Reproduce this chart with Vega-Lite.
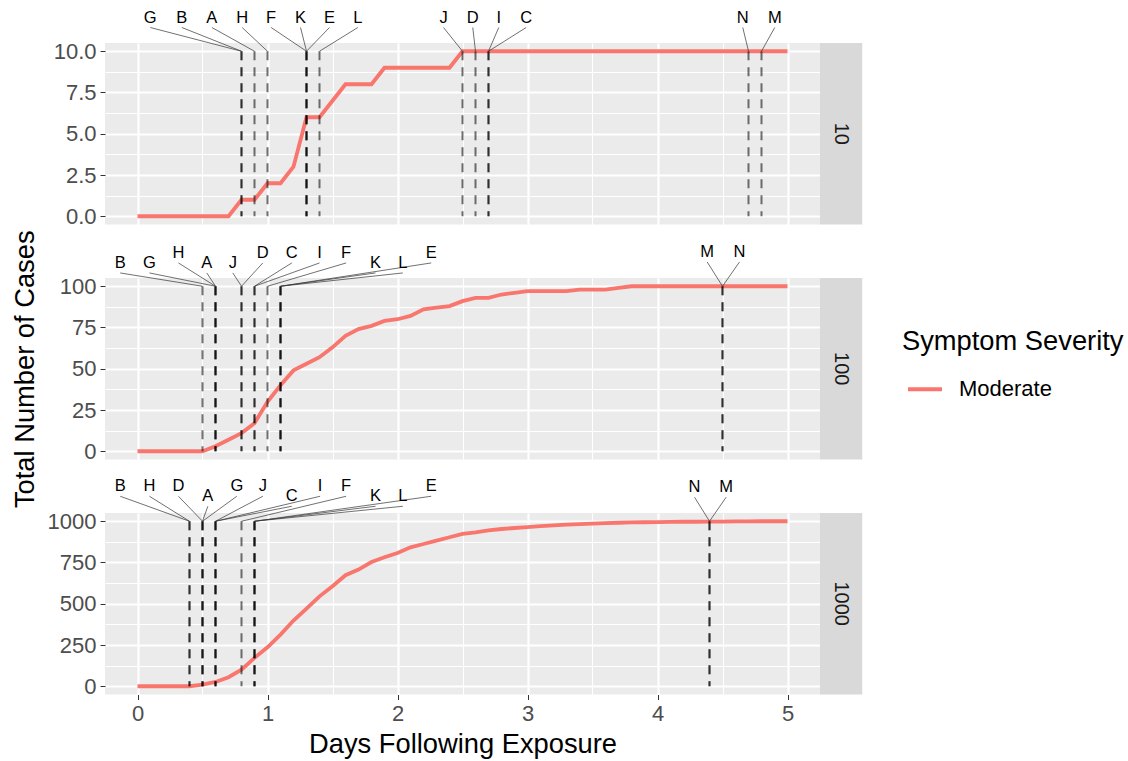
{
  "$schema": "https://vega.github.io/schema/vega-lite/v6.json",
  "background": "white",
  "padding": {"left": 11, "top": 9, "right": 5, "bottom": 5},
  "bounds": "flush",
  "spacing": 53,
  "config": {
    "font": "Liberation Sans",
    "view": {"fill": "#EBEBEB", "stroke": null},
    "axis": {"gridColor": "white", "domain": false, "tickColor": "#333333", "labelColor": "#4D4D4D", "labelFontSize": 22, "titleFontSize": 27.3, "titleColor": "black", "titleFontWeight": "normal", "tickSize": 5, "labelPadding": 4, "labelFlush": false, "labelOverlap": false}
  },
  "datasets": {
    "c10": [
      {"day":0,"cases":0,"severity":"Moderate"},{"day":0.1,"cases":0,"severity":"Moderate"},{"day":0.2,"cases":0,"severity":"Moderate"},{"day":0.3,"cases":0,"severity":"Moderate"},{"day":0.4,"cases":0,"severity":"Moderate"},{"day":0.5,"cases":0,"severity":"Moderate"},{"day":0.6,"cases":0,"severity":"Moderate"},{"day":0.7,"cases":0,"severity":"Moderate"},{"day":0.8,"cases":1,"severity":"Moderate"},{"day":0.9,"cases":1,"severity":"Moderate"},
      {"day":1,"cases":2,"severity":"Moderate"},{"day":1.1,"cases":2,"severity":"Moderate"},{"day":1.2,"cases":3,"severity":"Moderate"},{"day":1.3,"cases":6,"severity":"Moderate"},{"day":1.4,"cases":6,"severity":"Moderate"},{"day":1.5,"cases":7,"severity":"Moderate"},{"day":1.6,"cases":8,"severity":"Moderate"},{"day":1.7,"cases":8,"severity":"Moderate"},{"day":1.8,"cases":8,"severity":"Moderate"},{"day":1.9,"cases":9,"severity":"Moderate"},
      {"day":2,"cases":9,"severity":"Moderate"},{"day":2.1,"cases":9,"severity":"Moderate"},{"day":2.2,"cases":9,"severity":"Moderate"},{"day":2.3,"cases":9,"severity":"Moderate"},{"day":2.4,"cases":9,"severity":"Moderate"},{"day":2.5,"cases":10,"severity":"Moderate"},{"day":2.6,"cases":10,"severity":"Moderate"},{"day":2.7,"cases":10,"severity":"Moderate"},{"day":2.8,"cases":10,"severity":"Moderate"},{"day":2.9,"cases":10,"severity":"Moderate"},
      {"day":3,"cases":10,"severity":"Moderate"},{"day":3.1,"cases":10,"severity":"Moderate"},{"day":3.2,"cases":10,"severity":"Moderate"},{"day":3.3,"cases":10,"severity":"Moderate"},{"day":3.4,"cases":10,"severity":"Moderate"},{"day":3.5,"cases":10,"severity":"Moderate"},{"day":3.6,"cases":10,"severity":"Moderate"},{"day":3.7,"cases":10,"severity":"Moderate"},{"day":3.8,"cases":10,"severity":"Moderate"},{"day":3.9,"cases":10,"severity":"Moderate"},
      {"day":4,"cases":10,"severity":"Moderate"},{"day":4.1,"cases":10,"severity":"Moderate"},{"day":4.2,"cases":10,"severity":"Moderate"},{"day":4.3,"cases":10,"severity":"Moderate"},{"day":4.4,"cases":10,"severity":"Moderate"},{"day":4.5,"cases":10,"severity":"Moderate"},{"day":4.6,"cases":10,"severity":"Moderate"},{"day":4.7,"cases":10,"severity":"Moderate"},{"day":4.8,"cases":10,"severity":"Moderate"},{"day":4.9,"cases":10,"severity":"Moderate"},
      {"day":5,"cases":10,"severity":"Moderate"}
    ],
    "c100": [
      {"day":0,"cases":0,"severity":"Moderate"},{"day":0.1,"cases":0,"severity":"Moderate"},{"day":0.2,"cases":0,"severity":"Moderate"},{"day":0.3,"cases":0,"severity":"Moderate"},{"day":0.4,"cases":0,"severity":"Moderate"},{"day":0.5,"cases":0,"severity":"Moderate"},{"day":0.6,"cases":3,"severity":"Moderate"},{"day":0.7,"cases":7,"severity":"Moderate"},{"day":0.8,"cases":11,"severity":"Moderate"},{"day":0.9,"cases":17,"severity":"Moderate"},
      {"day":1,"cases":30,"severity":"Moderate"},{"day":1.1,"cases":40,"severity":"Moderate"},{"day":1.2,"cases":49,"severity":"Moderate"},{"day":1.3,"cases":53,"severity":"Moderate"},{"day":1.4,"cases":57,"severity":"Moderate"},{"day":1.5,"cases":63,"severity":"Moderate"},{"day":1.6,"cases":70,"severity":"Moderate"},{"day":1.7,"cases":74,"severity":"Moderate"},{"day":1.8,"cases":76,"severity":"Moderate"},{"day":1.9,"cases":79,"severity":"Moderate"},
      {"day":2,"cases":80,"severity":"Moderate"},{"day":2.1,"cases":82,"severity":"Moderate"},{"day":2.2,"cases":86,"severity":"Moderate"},{"day":2.3,"cases":87,"severity":"Moderate"},{"day":2.4,"cases":88,"severity":"Moderate"},{"day":2.5,"cases":91,"severity":"Moderate"},{"day":2.6,"cases":93,"severity":"Moderate"},{"day":2.7,"cases":93,"severity":"Moderate"},{"day":2.8,"cases":95,"severity":"Moderate"},{"day":2.9,"cases":96,"severity":"Moderate"},
      {"day":3,"cases":97,"severity":"Moderate"},{"day":3.1,"cases":97,"severity":"Moderate"},{"day":3.2,"cases":97,"severity":"Moderate"},{"day":3.3,"cases":97,"severity":"Moderate"},{"day":3.4,"cases":98,"severity":"Moderate"},{"day":3.5,"cases":98,"severity":"Moderate"},{"day":3.6,"cases":98,"severity":"Moderate"},{"day":3.7,"cases":99,"severity":"Moderate"},{"day":3.8,"cases":100,"severity":"Moderate"},{"day":3.9,"cases":100,"severity":"Moderate"},
      {"day":4,"cases":100,"severity":"Moderate"},{"day":4.1,"cases":100,"severity":"Moderate"},{"day":4.2,"cases":100,"severity":"Moderate"},{"day":4.3,"cases":100,"severity":"Moderate"},{"day":4.4,"cases":100,"severity":"Moderate"},{"day":4.5,"cases":100,"severity":"Moderate"},{"day":4.6,"cases":100,"severity":"Moderate"},{"day":4.7,"cases":100,"severity":"Moderate"},{"day":4.8,"cases":100,"severity":"Moderate"},{"day":4.9,"cases":100,"severity":"Moderate"},
      {"day":5,"cases":100,"severity":"Moderate"}
    ],
    "c1000": [
      {"day":0,"cases":0,"severity":"Moderate"},{"day":0.1,"cases":0,"severity":"Moderate"},{"day":0.2,"cases":0,"severity":"Moderate"},{"day":0.3,"cases":0,"severity":"Moderate"},{"day":0.4,"cases":0,"severity":"Moderate"},{"day":0.5,"cases":10,"severity":"Moderate"},{"day":0.6,"cases":26,"severity":"Moderate"},{"day":0.7,"cases":55,"severity":"Moderate"},{"day":0.8,"cases":100,"severity":"Moderate"},{"day":0.9,"cases":172,"severity":"Moderate"},
      {"day":1,"cases":236,"severity":"Moderate"},{"day":1.1,"cases":313,"severity":"Moderate"},{"day":1.2,"cases":398,"severity":"Moderate"},{"day":1.3,"cases":471,"severity":"Moderate"},{"day":1.4,"cases":545,"severity":"Moderate"},{"day":1.5,"cases":606,"severity":"Moderate"},{"day":1.6,"cases":673,"severity":"Moderate"},{"day":1.7,"cases":707,"severity":"Moderate"},{"day":1.8,"cases":753,"severity":"Moderate"},{"day":1.9,"cases":782,"severity":"Moderate"},
      {"day":2,"cases":808,"severity":"Moderate"},{"day":2.1,"cases":842,"severity":"Moderate"},{"day":2.2,"cases":862,"severity":"Moderate"},{"day":2.3,"cases":883,"severity":"Moderate"},{"day":2.4,"cases":903,"severity":"Moderate"},{"day":2.5,"cases":923,"severity":"Moderate"},{"day":2.6,"cases":933,"severity":"Moderate"},{"day":2.7,"cases":945,"severity":"Moderate"},{"day":2.8,"cases":953,"severity":"Moderate"},{"day":2.9,"cases":959,"severity":"Moderate"},
      {"day":3,"cases":965,"severity":"Moderate"},{"day":3.1,"cases":970,"severity":"Moderate"},{"day":3.2,"cases":975,"severity":"Moderate"},{"day":3.3,"cases":979,"severity":"Moderate"},{"day":3.4,"cases":983,"severity":"Moderate"},{"day":3.5,"cases":986,"severity":"Moderate"},{"day":3.6,"cases":989,"severity":"Moderate"},{"day":3.7,"cases":991,"severity":"Moderate"},{"day":3.8,"cases":993,"severity":"Moderate"},{"day":3.9,"cases":994,"severity":"Moderate"},
      {"day":4,"cases":995,"severity":"Moderate"},{"day":4.1,"cases":996,"severity":"Moderate"},{"day":4.2,"cases":997,"severity":"Moderate"},{"day":4.3,"cases":997,"severity":"Moderate"},{"day":4.4,"cases":998,"severity":"Moderate"},{"day":4.5,"cases":998,"severity":"Moderate"},{"day":4.6,"cases":999,"severity":"Moderate"},{"day":4.7,"cases":999,"severity":"Moderate"},{"day":4.8,"cases":1000,"severity":"Moderate"},{"day":4.9,"cases":1000,"severity":"Moderate"},
      {"day":5,"cases":1000,"severity":"Moderate"}
    ],
    "l10": [
      {"id":"G","day":0.8,"label_day":0.098,"label_y":12.04,"seg_y":11.44,"top":10},
      {"id":"B","day":0.8,"label_day":0.341,"label_y":12.04,"seg_y":11.44,"top":10},
      {"id":"A","day":0.9,"label_day":0.572,"label_y":12.04,"seg_y":11.44,"top":10},
      {"id":"H","day":1.0,"label_day":0.805,"label_y":12.04,"seg_y":11.44,"top":10},
      {"id":"F","day":1.3,"label_day":1.028,"label_y":12.04,"seg_y":11.44,"top":10},
      {"id":"K","day":1.3,"label_day":1.254,"label_y":12.04,"seg_y":11.44,"top":10},
      {"id":"E","day":1.3,"label_day":1.477,"label_y":12.04,"seg_y":11.44,"top":10},
      {"id":"L","day":1.4,"label_day":1.695,"label_y":12.04,"seg_y":11.44,"top":10},
      {"id":"J","day":2.5,"label_day":2.354,"label_y":12.04,"seg_y":11.44,"top":10},
      {"id":"D","day":2.6,"label_day":2.579,"label_y":12.04,"seg_y":11.44,"top":10},
      {"id":"I","day":2.7,"label_day":2.779,"label_y":12.04,"seg_y":11.44,"top":10},
      {"id":"C","day":2.7,"label_day":2.990,"label_y":12.04,"seg_y":11.44,"top":10},
      {"id":"N","day":4.7,"label_day":4.656,"label_y":12.04,"seg_y":11.44,"top":10},
      {"id":"M","day":4.8,"label_day":4.902,"label_y":12.04,"seg_y":11.44,"top":10}
    ],
    "l100": [
      {"id":"B","day":0.5,"label_day":-0.133,"label_y":114.12,"seg_y":108.06,"top":100},
      {"id":"G","day":0.6,"label_day":0.092,"label_y":114.12,"seg_y":108.06,"top":100},
      {"id":"H","day":0.6,"label_day":0.315,"label_y":120.18,"seg_y":114.12,"top":100},
      {"id":"A","day":0.6,"label_day":0.533,"label_y":114.12,"seg_y":108.06,"top":100},
      {"id":"J","day":0.8,"label_day":0.733,"label_y":114.12,"seg_y":108.06,"top":100},
      {"id":"D","day":0.8,"label_day":0.964,"label_y":120.18,"seg_y":114.12,"top":100},
      {"id":"C","day":0.9,"label_day":1.187,"label_y":120.18,"seg_y":114.12,"top":100},
      {"id":"I","day":0.9,"label_day":1.4,"label_y":120.18,"seg_y":114.12,"top":100},
      {"id":"F","day":1.0,"label_day":1.605,"label_y":120.18,"seg_y":114.12,"top":100},
      {"id":"K","day":1.1,"label_day":1.831,"label_y":114.12,"seg_y":108.06,"top":100},
      {"id":"L","day":1.1,"label_day":2.041,"label_y":114.12,"seg_y":108.06,"top":100},
      {"id":"E","day":1.1,"label_day":2.259,"label_y":120.18,"seg_y":114.12,"top":100},
      {"id":"M","day":4.5,"label_day":4.382,"label_y":120.79,"seg_y":114.73,"top":100},
      {"id":"N","day":4.5,"label_day":4.631,"label_y":120.79,"seg_y":114.73,"top":100}
    ],
    "l1000": [
      {"id":"B","day":0.4,"label_day":-0.133,"label_y":1212.1,"seg_y":1151.5,"top":1000},
      {"id":"H","day":0.4,"label_day":0.092,"label_y":1212.1,"seg_y":1151.5,"top":1000},
      {"id":"D","day":0.5,"label_day":0.315,"label_y":1212.1,"seg_y":1151.5,"top":1000},
      {"id":"A","day":0.5,"label_day":0.541,"label_y":1151.5,"seg_y":1090.9,"top":1000},
      {"id":"G","day":0.5,"label_day":0.764,"label_y":1212.1,"seg_y":1151.5,"top":1000},
      {"id":"J","day":0.6,"label_day":0.964,"label_y":1212.1,"seg_y":1151.5,"top":1000},
      {"id":"C","day":0.6,"label_day":1.187,"label_y":1151.5,"seg_y":1090.9,"top":1000},
      {"id":"I","day":0.6,"label_day":1.405,"label_y":1212.1,"seg_y":1151.5,"top":1000},
      {"id":"F","day":0.8,"label_day":1.605,"label_y":1212.1,"seg_y":1151.5,"top":1000},
      {"id":"K","day":0.9,"label_day":1.831,"label_y":1151.5,"seg_y":1090.9,"top":1000},
      {"id":"L","day":0.9,"label_day":2.041,"label_y":1151.5,"seg_y":1090.9,"top":1000},
      {"id":"E","day":0.9,"label_day":2.259,"label_y":1212.1,"seg_y":1151.5,"top":1000},
      {"id":"N","day":4.4,"label_day":4.285,"label_y":1206.1,"seg_y":1145.5,"top":1000},
      {"id":"M","day":4.4,"label_day":4.528,"label_y":1206.1,"seg_y":1145.5,"top":1000}
    ]
  },
  "vconcat": [
    {
      "width": 715, "height": 181.5,
      "resolve": {"axis": {"x": "independent", "y": "independent"}},
      "layer": [
        {"data": {"name": "c10"}, "mark": {"type": "line", "strokeWidth": 3.8},
         "encoding": {
           "x": {"field": "day", "type": "quantitative", "scale": {"domain": [-0.25, 5.25], "nice": false, "zero": false},
                 "axis": {"values": [0,1,2,3,4,5], "labels": false, "ticks": false, "title": null, "grid": true, "gridWidth": 2.2}},
           "y": {"field": "cases", "type": "quantitative", "scale": {"domain": [-0.5, 10.5], "nice": false, "zero": false},
                 "axis": {"values": [0,2.5,5,7.5,10], "format": ".1f", "title": null, "grid": true, "gridWidth": 2.2}},
           "color": {"field": "severity", "type": "nominal", "scale": {"domain": ["Moderate"], "range": ["#F8766D"]},
                     "legend": {"title": "Symptom Severity", "orient": "none", "legendX": 797, "legendY": 285, "titleLimit": 500, "titleFontSize": 27.3, "titleFontWeight": "normal", "titleColor": "black", "titlePadding": 15, "labelFontSize": 22, "labelColor": "black", "symbolType": "stroke", "symbolSize": 1156, "symbolStrokeWidth": 4, "symbolOffset": 4, "labelOffset": 15}}
         }},
        {"data": {"name": "l10"}, "mark": {"type": "rule", "strokeDash": [9, 7], "strokeWidth": 2, "color": "black", "opacity": 0.55},
         "encoding": {
           "x": {"field": "day", "type": "quantitative", "axis": {"orient": "top", "values": [0.5,1.5,2.5,3.5,4.5], "labels": false, "ticks": false, "title": null, "grid": true, "gridWidth": 1.1}},
           "y": {"field": "top", "type": "quantitative", "axis": {"orient": "right", "values": [1.25,3.75,6.25,8.75], "labels": false, "ticks": false, "title": null, "grid": true, "gridWidth": 1.1}},
           "y2": {"datum": 0}
         }},
        {"data": {"name": "l10"}, "mark": {"type": "rule", "strokeWidth": 0.7, "color": "#333333"},
         "encoding": {
           "x": {"field": "label_day", "type": "quantitative", "axis": null},
           "y": {"field": "seg_y", "type": "quantitative", "axis": null},
           "x2": {"field": "day"}, "y2": {"field": "top"}
         }},
        {"data": {"name": "l10"}, "mark": {"type": "text", "fontSize": 16.5, "baseline": "middle", "color": "black"},
         "encoding": {
           "x": {"field": "label_day", "type": "quantitative", "axis": null},
           "y": {"field": "label_y", "type": "quantitative", "axis": null},
           "text": {"field": "id"}
         }},
        {"data": {"values": [{"strip": "10"}]}, "mark": {"type": "rect", "color": "#D9D9D9"},
         "encoding": {
           "x": {"datum": 5.25, "type": "quantitative", "axis": null}, "x2": {"datum": 5.575},
           "y": {"datum": -0.5, "type": "quantitative", "axis": null}, "y2": {"datum": 10.5}
         }},
        {"data": {"values": [{"strip": "10"}]}, "mark": {"type": "text", "angle": 90, "fontSize": 20, "color": "#1A1A1A", "baseline": "middle"},
         "encoding": {
           "x": {"datum": 5.4125, "type": "quantitative", "axis": null},
           "y": {"datum": 5, "type": "quantitative", "axis": null},
           "text": {"field": "strip"}
         }}
      ]
    },
    {
      "width": 715, "height": 181.5,
      "resolve": {"axis": {"x": "independent", "y": "independent"}},
      "layer": [
        {"data": {"name": "c100"}, "mark": {"type": "line", "strokeWidth": 3.8},
         "encoding": {
           "x": {"field": "day", "type": "quantitative", "scale": {"domain": [-0.25, 5.25], "nice": false, "zero": false},
                 "axis": {"values": [0,1,2,3,4,5], "labels": false, "ticks": false, "title": null, "grid": true, "gridWidth": 2.2}},
           "y": {"field": "cases", "type": "quantitative", "scale": {"domain": [-5, 105], "nice": false, "zero": false},
                 "axis": {"values": [0,25,50,75,100], "format": "d", "title": "Total Number of Cases", "titlePadding": 20, "grid": true, "gridWidth": 2.2}},
           "color": {"field": "severity", "type": "nominal", "scale": {"domain": ["Moderate"], "range": ["#F8766D"]},
                     "legend": {"title": "Symptom Severity", "orient": "none", "legendX": 797, "legendY": 285, "titleLimit": 500, "titleFontSize": 27.3, "titleFontWeight": "normal", "titleColor": "black", "titlePadding": 15, "labelFontSize": 22, "labelColor": "black", "symbolType": "stroke", "symbolSize": 1156, "symbolStrokeWidth": 4, "symbolOffset": 4, "labelOffset": 15}}
         }},
        {"data": {"name": "l100"}, "mark": {"type": "rule", "strokeDash": [9, 7], "strokeWidth": 2, "color": "black", "opacity": 0.55},
         "encoding": {
           "x": {"field": "day", "type": "quantitative", "axis": {"orient": "top", "values": [0.5,1.5,2.5,3.5,4.5], "labels": false, "ticks": false, "title": null, "grid": true, "gridWidth": 1.1}},
           "y": {"field": "top", "type": "quantitative", "axis": {"orient": "right", "values": [12.5,37.5,62.5,87.5], "labels": false, "ticks": false, "title": null, "grid": true, "gridWidth": 1.1}},
           "y2": {"datum": 0}
         }},
        {"data": {"name": "l100"}, "mark": {"type": "rule", "strokeWidth": 0.7, "color": "#333333"},
         "encoding": {
           "x": {"field": "label_day", "type": "quantitative", "axis": null},
           "y": {"field": "seg_y", "type": "quantitative", "axis": null},
           "x2": {"field": "day"}, "y2": {"field": "top"}
         }},
        {"data": {"name": "l100"}, "mark": {"type": "text", "fontSize": 16.5, "baseline": "middle", "color": "black"},
         "encoding": {
           "x": {"field": "label_day", "type": "quantitative", "axis": null},
           "y": {"field": "label_y", "type": "quantitative", "axis": null},
           "text": {"field": "id"}
         }},
        {"data": {"values": [{"strip": "100"}]}, "mark": {"type": "rect", "color": "#D9D9D9"},
         "encoding": {
           "x": {"datum": 5.25, "type": "quantitative", "axis": null}, "x2": {"datum": 5.575},
           "y": {"datum": -5, "type": "quantitative", "axis": null}, "y2": {"datum": 105}
         }},
        {"data": {"values": [{"strip": "100"}]}, "mark": {"type": "text", "angle": 90, "fontSize": 20, "color": "#1A1A1A", "baseline": "middle"},
         "encoding": {
           "x": {"datum": 5.4125, "type": "quantitative", "axis": null},
           "y": {"datum": 50, "type": "quantitative", "axis": null},
           "text": {"field": "strip"}
         }}
      ]
    },
    {
      "width": 715, "height": 181.5,
      "resolve": {"axis": {"x": "independent", "y": "independent"}},
      "layer": [
        {"data": {"name": "c1000"}, "mark": {"type": "line", "strokeWidth": 3.8},
         "encoding": {
           "x": {"field": "day", "type": "quantitative", "scale": {"domain": [-0.25, 5.25], "nice": false, "zero": false},
                 "axis": {"values": [0,1,2,3,4,5], "format": "d", "title": "Days Following Exposure", "titlePadding": 6, "grid": true, "gridWidth": 2.2}},
           "y": {"field": "cases", "type": "quantitative", "scale": {"domain": [-50, 1050], "nice": false, "zero": false},
                 "axis": {"values": [0,250,500,750,1000], "format": "d", "title": null, "grid": true, "gridWidth": 2.2}},
           "color": {"field": "severity", "type": "nominal", "scale": {"domain": ["Moderate"], "range": ["#F8766D"]},
                     "legend": {"title": "Symptom Severity", "orient": "none", "legendX": 797, "legendY": 285, "titleLimit": 500, "titleFontSize": 27.3, "titleFontWeight": "normal", "titleColor": "black", "titlePadding": 15, "labelFontSize": 22, "labelColor": "black", "symbolType": "stroke", "symbolSize": 1156, "symbolStrokeWidth": 4, "symbolOffset": 4, "labelOffset": 15}}
         }},
        {"data": {"name": "l1000"}, "mark": {"type": "rule", "strokeDash": [9, 7], "strokeWidth": 2, "color": "black", "opacity": 0.55},
         "encoding": {
           "x": {"field": "day", "type": "quantitative", "axis": {"orient": "top", "values": [0.5,1.5,2.5,3.5,4.5], "labels": false, "ticks": false, "title": null, "grid": true, "gridWidth": 1.1}},
           "y": {"field": "top", "type": "quantitative", "axis": {"orient": "right", "values": [125,375,625,875], "labels": false, "ticks": false, "title": null, "grid": true, "gridWidth": 1.1}},
           "y2": {"datum": 0}
         }},
        {"data": {"name": "l1000"}, "mark": {"type": "rule", "strokeWidth": 0.7, "color": "#333333"},
         "encoding": {
           "x": {"field": "label_day", "type": "quantitative", "axis": null},
           "y": {"field": "seg_y", "type": "quantitative", "axis": null},
           "x2": {"field": "day"}, "y2": {"field": "top"}
         }},
        {"data": {"name": "l1000"}, "mark": {"type": "text", "fontSize": 16.5, "baseline": "middle", "color": "black"},
         "encoding": {
           "x": {"field": "label_day", "type": "quantitative", "axis": null},
           "y": {"field": "label_y", "type": "quantitative", "axis": null},
           "text": {"field": "id"}
         }},
        {"data": {"values": [{"strip": "1000"}]}, "mark": {"type": "rect", "color": "#D9D9D9"},
         "encoding": {
           "x": {"datum": 5.25, "type": "quantitative", "axis": null}, "x2": {"datum": 5.575},
           "y": {"datum": -50, "type": "quantitative", "axis": null}, "y2": {"datum": 1050}
         }},
        {"data": {"values": [{"strip": "1000"}]}, "mark": {"type": "text", "angle": 90, "fontSize": 20, "color": "#1A1A1A", "baseline": "middle"},
         "encoding": {
           "x": {"datum": 5.4125, "type": "quantitative", "axis": null},
           "y": {"datum": 500, "type": "quantitative", "axis": null},
           "text": {"field": "strip"}
         }}
      ]
    }
  ]
}
